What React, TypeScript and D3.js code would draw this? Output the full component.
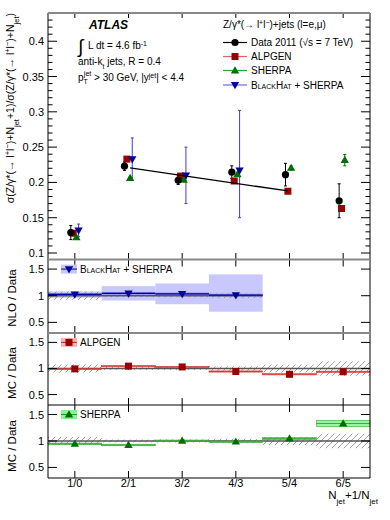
import React, { useEffect, useRef } from "react";
import * as d3 from "d3";

// jet multiplicity ratios, Z/gamma* + jets
const categories = ["1/0", "2/1", "3/2", "4/3", "5/4", "6/5"];
const mainTicks = [0.1, 0.15, 0.2, 0.25, 0.3, 0.35, 0.4];
const ratioTicks = [0.5, 1, 1.5];

const dataVals = [0.129, 0.223, 0.203, 0.2145, 0.211, 0.174];
const dataErr = [0.01, 0.006, 0.006, 0.009, 0.016, 0.024];

const alpgenVals = [0.128, 0.233, 0.209, 0.202, 0.1875, 0.163];
const alpgenRatioErr = [0.012, 0.012, 0.012, 0.012, 0.012, 0.012];

const sherpaVals = [0.122, 0.206, 0.2035, 0.2115, 0.2205, 0.2315];
const sherpaErr = [0.002, 0.002, 0.002, 0.002, 0.003, 0.008];
const sherpaRatioErr = [0.015, 0.015, 0.015, 0.015, 0.02, 0.06];

const blackhatVals = [0.132, 0.233, 0.21, 0.217];
const blackhatErrUp = [0.009, 0.03, 0.04, 0.085];
const blackhatErrDown = [0.009, 0.03, 0.04, 0.067];
const nloBandLow = [0.96, 0.91, 0.84, 0.7];
const nloBandHigh = [1.08, 1.18, 1.23, 1.4];

// straight-line fit through 2/1 .. 5/4
const fitX = [2.03, 4.97];
const fitY = [0.2206, 0.1879];

const FONT = "'Liberation Sans', Arial, Helvetica, sans-serif";
const RED = "#990000";
const GREEN = "#006e00";
const BLUE = "#00009a";

function App() {
  const ref = useRef<SVGSVGElement>(null);

  useEffect(() => {
    drawChart();
  }, []);

  const drawChart = () => {
    const svg = d3.select(ref.current);
    svg.selectAll("*").remove();

    const left = 48, right = 370;
    const mainTop = 13, mainBottom = 259;
    const panels = [
      { top: 259.5, bottom: 333 },
      { top: 333, bottom: 405 },
      { top: 405, bottom: 478 },
    ];

    const x = d3.scaleLinear().domain([0.5, 6.5]).range([left, right]);
    const yMain = d3.scaleLinear().domain([0.0915, 0.44]).range([mainBottom, mainTop]);
    const yR = panels.map(p => d3.scaleLinear().domain([0.3, 1.68]).range([p.bottom, p.top]));

    // hatch pattern for data uncertainty
    const defs = svg.append("defs");
    const pat = defs.append("pattern")
      .attr("id", "hatch")
      .attr("patternUnits", "userSpaceOnUse")
      .attr("width", 6)
      .attr("height", 6);
    pat.append("path")
      .attr("d", "M-1,7 L7,-1")
      .attr("stroke", "#888")
      .attr("stroke-width", 0.8);

    const marker = (g: any, kind: string, cx: number, cy: number, color: string) => {
      if (kind === "circle") {
        g.append("circle").attr("cx", cx).attr("cy", cy).attr("r", 3.6).attr("fill", color);
      } else if (kind === "square") {
        g.append("rect").attr("x", cx - 3.5).attr("y", cy - 3.5).attr("width", 7).attr("height", 7)
          .attr("fill", color);
      } else {
        const sym = d3.symbol().type(d3.symbolTriangle).size(30)();
        g.append("path")
          .attr("d", sym)
          .attr("fill", color)
          .attr("transform", `translate(${cx},${cy + (kind === "down" ? -0.5 : 0.5)}) rotate(${kind === "down" ? 180 : 0})`);
      }
    };

    const errBar = (g: any, cx: number, y1: number, y2: number, color: string, w = 1) => {
      g.append("line").attr("x1", cx).attr("x2", cx).attr("y1", y1).attr("y2", y2)
        .attr("stroke", color).attr("stroke-width", w);
      [y1, y2].forEach(yy => {
        g.append("line").attr("x1", cx - 1.5).attr("x2", cx + 1.5).attr("y1", yy).attr("y2", yy)
          .attr("stroke", color).attr("stroke-width", w);
      });
    };

    const txt = (x0: number, y0: number, size: number, anchor = "start") =>
      svg.append("text")
        .attr("x", x0)
        .attr("y", y0)
        .attr("font-size", size)
        .attr("font-family", FONT)
        .attr("text-anchor", anchor);

    const sup = (t: any, s: string, size: number) =>
      t.append("tspan").attr("baseline-shift", "super").attr("font-size", size).text(s);
    const sub = (t: any, s: string, size: number) =>
      t.append("tspan").attr("baseline-shift", "sub").attr("font-size", size).text(s);
    const norm = (t: any, s: string) => t.append("tspan").text(s);

    // ---------- main panel ----------
    const gm = svg.append("g");

    // y ticks
    const minor = d3.range(10, 44).map(v => v / 100).filter(v => Math.round(v * 100) % 5 !== 0);
    minor.forEach(v => {
      [[left, left + 4.5], [right, right - 4.5]].forEach(([a, b]) =>
        gm.append("line").attr("x1", a).attr("x2", b).attr("y1", yMain(v)).attr("y2", yMain(v))
          .attr("stroke", "#000").attr("stroke-width", 1));
    });
    mainTicks.forEach(v => {
      [[left, left + 9], [right, right - 9]].forEach(([a, b]) =>
        gm.append("line").attr("x1", a).attr("x2", b).attr("y1", yMain(v)).attr("y2", yMain(v))
          .attr("stroke", "#000").attr("stroke-width", 1));
      txt(44, yMain(v) + 4, 11, "end").text(String(v));
    });

    // x ticks in main panel
    categories.forEach((c, i) => {
      gm.append("line").attr("x1", x(i + 1)).attr("x2", x(i + 1)).attr("y1", mainTop).attr("y2", mainTop + 5)
        .attr("stroke", "#000");
      gm.append("line").attr("x1", x(i + 1)).attr("x2", x(i + 1)).attr("y1", mainBottom).attr("y2", mainBottom - 6)
        .attr("stroke", "#000");
    });

    // error bars
    blackhatVals.forEach((v, i) => {
      errBar(gm, x(i + 1.07), yMain(v + blackhatErrUp[i]), yMain(v - blackhatErrDown[i]), "#3f3fd0");
    });
    sherpaVals.forEach((v, i) => {
      errBar(gm, x(i + 1.03), yMain(v + sherpaErr[i]), yMain(v - sherpaErr[i]), GREEN);
    });
    dataVals.forEach((v, i) => {
      errBar(gm, x(i + 0.925), yMain(v + dataErr[i]), yMain(v - dataErr[i]), "#000");
    });

    alpgenVals.forEach((v, i) => marker(gm, "square", x(i + 0.97), yMain(v), RED));
    sherpaVals.forEach((v, i) => marker(gm, "up", x(i + 1.03), yMain(v), GREEN));
    blackhatVals.forEach((v, i) => marker(gm, "down", x(i + 1.07), yMain(v), BLUE));

    gm.append("line")
      .attr("x1", x(fitX[0])).attr("y1", yMain(fitY[0]))
      .attr("x2", x(fitX[1])).attr("y2", yMain(fitY[1]))
      .attr("stroke", "#000").attr("stroke-width", 1.3);

    dataVals.forEach((v, i) => marker(gm, "circle", x(i + 0.925), yMain(v), "#000"));

    // ---------- ratio panels ----------
    const hatchBand = (g: any, y: any, n: number) => {
      for (let i = 0; i < n; i++) {
        const rel = dataErr[i] / dataVals[i];
        g.append("rect")
          .attr("x", x(i + 0.5)).attr("width", x(i + 1.5) - x(i + 0.5))
          .attr("y", y(1 + rel)).attr("height", y(1 - rel) - y(1 + rel))
          .attr("fill", "url(#hatch)");
      }
      g.append("line").attr("x1", x(0.5)).attr("x2", x(n + 0.5)).attr("y1", y(1)).attr("y2", y(1))
        .attr("stroke", "#555").attr("stroke-width", 1.6);
    };

    const ratioAxes = (g: any, p: any, y: any) => {
      ratioTicks.forEach(v => {
        [[left, left + 9], [right, right - 9]].forEach(([a, b]) =>
          g.append("line").attr("x1", a).attr("x2", b).attr("y1", y(v)).attr("y2", y(v)).attr("stroke", "#000"));
        txt(44, y(v) + 4, 11, "end").text(String(v));
      });
      categories.forEach((c, i) => {
        g.append("line").attr("x1", x(i + 1)).attr("x2", x(i + 1)).attr("y1", p.top).attr("y2", p.top + 7)
          .attr("stroke", "#000");
        g.append("line").attr("x1", x(i + 1)).attr("x2", x(i + 1)).attr("y1", p.bottom).attr("y2", p.bottom - 7)
          .attr("stroke", "#000");
      });
    };

    // panel 1: NLO / Data
    const g1 = svg.append("g");
    const y1 = yR[0];
    blackhatVals.forEach((v, i) => {
      g1.append("rect")
        .attr("x", x(i + 0.5)).attr("width", x(i + 1.5) - x(i + 0.5))
        .attr("y", y1(nloBandHigh[i])).attr("height", y1(nloBandLow[i]) - y1(nloBandHigh[i]))
        .attr("fill", "#c8c8ff");
    });
    hatchBand(g1, y1, 4);
    blackhatVals.forEach((v, i) => {
      const r = v / dataVals[i];
      g1.append("rect")
        .attr("x", x(i + 0.5)).attr("width", x(i + 1.5) - x(i + 0.5))
        .attr("y", y1(r + 0.025)).attr("height", y1(r - 0.025) - y1(r + 0.025))
        .attr("fill", "#6a6ae0").attr("opacity", 0.7);
      g1.append("line").attr("x1", x(i + 0.5)).attr("x2", x(i + 1.5)).attr("y1", y1(r)).attr("y2", y1(r))
        .attr("stroke", BLUE).attr("stroke-width", 1.4);
      marker(g1, "down", x(i + 1), y1(r), BLUE);
    });
    ratioAxes(g1, panels[0], y1);

    // panels 2, 3: MC / Data
    const mcPanel = (idx: number, vals: number[], errs: number[], color: string, fill: string, kind: string) => {
      const g = svg.append("g");
      const y = yR[idx];
      hatchBand(g, y, 6);
      vals.forEach((v, i) => {
        const r = v / dataVals[i];
        g.append("rect")
          .attr("x", x(i + 0.5)).attr("width", x(i + 1.5) - x(i + 0.5))
          .attr("y", y(r + errs[i])).attr("height", y(r - errs[i]) - y(r + errs[i]))
          .attr("fill", fill).attr("opacity", 0.85)
          .attr("stroke", color).attr("stroke-width", 0.6);
        g.append("line").attr("x1", x(i + 0.5)).attr("x2", x(i + 1.5)).attr("y1", y(r)).attr("y2", y(r))
          .attr("stroke", color).attr("stroke-width", 0.8);
        marker(g, kind, x(i + 1), y(r), color === "#cc2020" ? RED : GREEN);
      });
      ratioAxes(g, panels[idx], y);
    };
    mcPanel(1, alpgenVals, alpgenRatioErr, "#cc2020", "#f8c4c4", "square");
    mcPanel(2, sherpaVals, sherpaRatioErr, "#1d9a1d", "#8ff08f", "up");

    // ratio legends
    const ratioLegend = (yc: number, fill: string, line: string, kind: string, mcol: string) => {
      svg.append("rect").attr("x", 61).attr("y", yc - 4.5).attr("width", 16).attr("height", 9).attr("fill", fill);
      svg.append("line").attr("x1", 61).attr("x2", 77).attr("y1", yc).attr("y2", yc).attr("stroke", line);
      marker(svg, kind, 69, yc, mcol);
    };
    ratioLegend(yR[0](1.5), "#c8c8ff", BLUE, "down", BLUE);
    txt(80, yR[0](1.5) + 3.5, 10).attr("font-variant", "small-caps").text("BlackHat")
      .append("tspan").attr("font-variant", "normal").text(" + SHERPA");
    ratioLegend(yR[1](1.5), "#f6b4b4", "#cc2020", "square", RED);
    txt(80, yR[1](1.5) + 3.5, 10).text("ALPGEN");
    ratioLegend(yR[2](1.5), "#8ff08f", "#1d9a1d", "up", GREEN);
    txt(80, yR[2](1.5) + 3.5, 10).text("SHERPA");

    // ---------- frame ----------
    svg.append("line").attr("x1", left).attr("x2", left).attr("y1", mainTop).attr("y2", 478).attr("stroke", "#000");
    svg.append("line").attr("x1", right).attr("x2", right).attr("y1", mainTop).attr("y2", 478).attr("stroke", "#000");
    [mainTop, 259.5, 333].forEach(yy =>
      svg.append("line").attr("x1", left).attr("x2", right).attr("y1", yy).attr("y2", yy)
        .attr("stroke", "#888").attr("stroke-width", 2.2));
    [405, 478].forEach(yy =>
      svg.append("line").attr("x1", left).attr("x2", right).attr("y1", yy).attr("y2", yy)
        .attr("stroke", "#000").attr("stroke-width", 1));

    // x labels
    categories.forEach((c, i) => txt(x(i + 1), 487, 11, "middle").text(c));
    const xt = txt(378, 499, 11.5, "end");
    norm(xt, "N");
    sub(xt, "jet", 8);
    norm(xt, "+1/N");
    sub(xt, "jet", 8);

    // y titles
    const yt = svg.append("text")
      .attr("transform", "translate(14,13) rotate(-90)")
      .attr("text-anchor", "end")
      .attr("font-size", 10.5)
      .attr("font-family", FONT);
    norm(yt, "σ(Z/γ*(→ l");
    sup(yt, "+", 7.5);
    norm(yt, "l");
    sup(yt, "−", 7.5);
    norm(yt, ")+N");
    sub(yt, "jet", 7.5);
    norm(yt, "+1)/σ(Z/γ*(→ l");
    sup(yt, "+", 7.5);
    norm(yt, "l");
    sup(yt, "−", 7.5);
    norm(yt, ")+N");
    sub(yt, "jet", 7.5);
    norm(yt, ")");

    [["NLO / Data", 298], ["MC / Data", 373], ["MC / Data", 446]].forEach(([s, yc]) =>
      svg.append("text")
        .attr("transform", `translate(16,${yc}) rotate(-90)`)
        .attr("text-anchor", "middle")
        .attr("font-size", 11.5)
        .attr("font-family", FONT)
        .text(s as string));

    // ---------- annotations ----------
    txt(89, 29, 12).attr("font-weight", "bold").attr("font-style", "italic").text("ATLAS");
    txt(78, 53, 19).text("∫");
    const lum = txt(88, 49, 10);
    norm(lum, "L dt = 4.6 fb");
    sup(lum, "-1", 7);
    const ak = txt(78, 65, 10);
    norm(ak, "anti-k");
    sub(ak, "t", 7);
    norm(ak, " jets, R = 0.4");
    const pt = txt(78, 81, 10);
    norm(pt, "p");
    pt.append("tspan").attr("font-size", 7).attr("dy", 3).text("T");
    pt.append("tspan").attr("font-size", 7).attr("dx", -4).attr("dy", -8).text("jet");
    pt.append("tspan").attr("dy", 5).text(" > 30 GeV, |y");
    sup(pt, "jet", 7);
    norm(pt, "| < 4.4");

    // top-right legend
    const lt = txt(223, 28, 10);
    norm(lt, "Z/γ*(→ l");
    sup(lt, "+", 7);
    norm(lt, "l");
    sup(lt, "−", 7);
    norm(lt, ")+jets (l=e,μ)");

    const legend = [
      { label: "Data 2011 (√s = 7 TeV)", kind: "circle", color: "#000", line: "#000", y: 42.5 },
      { label: "ALPGEN", kind: "square", color: RED, line: "#e06060", y: 56.5 },
      { label: "SHERPA", kind: "up", color: GREEN, line: "#30a030", y: 70.5 },
      { label: "BlackHat", kind: "down", color: BLUE, line: "#6a6ae0", y: 85 },
    ];
    legend.forEach(l => {
      svg.append("line").attr("x1", 223).attr("x2", 247).attr("y1", l.y).attr("y2", l.y)
        .attr("stroke", l.line).attr("stroke-width", 1.2);
      marker(svg, l.kind, 235, l.y, l.color);
      const t = txt(251, l.y + 3.5, 10);
      if (l.kind === "down") {
        t.attr("font-variant", "small-caps").text("BlackHat")
          .append("tspan").attr("font-variant", "normal").text(" + SHERPA");
      } else {
        t.text(l.label);
      }
    });
  };

  return (
    <svg
      ref={ref}
      width={390}
      height={520}
      style={{ position: "absolute", left: 0, top: 0, background: "#fff" }}
    />
  );
}

export default App;
